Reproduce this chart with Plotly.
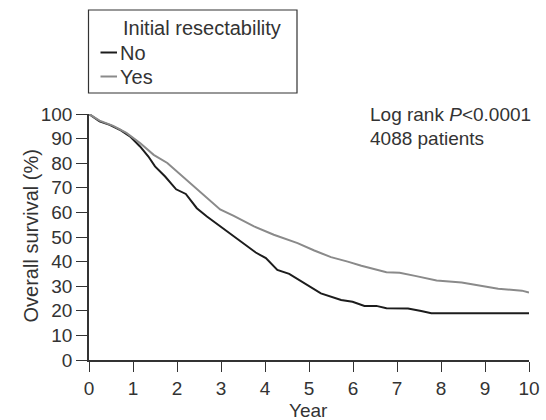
import plotly.graph_objects as go

# Kaplan-Meier overall survival by initial resectability
years_no = [0, 0.24, 0.47, 0.70, 0.93, 1.16, 1.35, 1.50, 1.73, 1.98, 2.20, 2.45, 2.68,
            2.97, 3.06, 3.48, 3.79, 4.02, 4.28, 4.55, 4.89, 5.27, 5.73, 5.99, 6.26,
            6.53, 6.76, 7.25, 7.55, 7.78, 10.0]
surv_no = [100, 97.0, 95.6, 93.6, 90.9, 86.8, 82.7, 78.7, 74.6, 69.4, 67.5, 61.7, 58.3,
           54.5, 53.6, 48.1, 43.7, 41.4, 36.6, 35.0, 31.2, 27.1, 24.4, 23.7, 22.0,
           22.0, 21.0, 20.9, 19.9, 19.0, 19.0]

years_yes = [0, 0.24, 0.55, 0.85, 1.16, 1.47, 1.78, 2.09, 2.40, 2.70, 2.98, 3.29, 3.75,
             4.20, 4.74, 5.12, 5.50, 5.88, 6.19, 6.76, 7.06, 7.41, 7.90, 8.47, 8.93,
             9.30, 9.84, 10.0]
surv_yes = [100, 97.3, 95.2, 92.3, 88.2, 83.4, 80.1, 75.3, 70.5, 65.8, 61.2, 58.6, 54.3,
            50.9, 47.5, 44.5, 41.8, 40.0, 38.3, 35.7, 35.5, 34.2, 32.3, 31.5, 30.1,
            29.0, 28.2, 27.4]

x_ticks = list(range(0, 11))
y_ticks = list(range(0, 101, 10))

group_names = ["No", "Yes"]
group_colors = ["#1c1c1c", "#8a8a8a"]

FONT = "Liberation Sans, Arial, sans-serif"
TXT = "#333333"
FS = 19

W, H = 546, 420
ML, MR, MT, MB = 89, 17, 114, 60
PW, PH = W - ML - MR, H - MT - MB


def px(xp):
    return (xp - ML) / PW


def py(yp):
    return (H - MB - yp) / PH


def label(x, y, text, size=FS, xanchor="left", angle=0):
    fig.add_annotation(xref="paper", yref="paper", x=px(x), y=py(y), text=text,
                       showarrow=False, xanchor=xanchor, yanchor="middle",
                       textangle=angle, font=dict(family=FONT, size=size, color=TXT))


fig = go.Figure()
for xs, ys, name, col in [(years_no, surv_no, group_names[0], group_colors[0]),
                          (years_yes, surv_yes, group_names[1], group_colors[1])]:
    fig.add_trace(go.Scatter(x=xs, y=ys, mode="lines", name=name,
                             line=dict(color=col, width=2), showlegend=False,
                             cliponaxis=False))

# Legend box drawn by hand so the line samples stay short
fig.add_shape(type="rect", xref="paper", yref="paper",
              x0=px(88.5), x1=px(297), y0=py(10), y1=py(93),
              line=dict(color="#333", width=1.2))
label(121, 28.5, "Initial resectability", size=FS + 1)
for i, (name, col) in enumerate(zip(group_names, group_colors)):
    yy = 52.5 + 24 * i
    fig.add_shape(type="line", xref="paper", yref="paper",
                  x0=px(100.5), x1=px(117), y0=py(yy), y1=py(yy),
                  line=dict(color=col, width=2))
    label(118, yy, name, size=FS + 1)

label(368, 115, "Log rank <i>P</i><0.0001")
label(368, 138, "4088 patients")

# Axis titles
label(308.5, 410, "Year", xanchor="center")
label(30, 236.5, "Overall survival (%)", size=FS + 1, xanchor="center", angle=-90)

axis_common = dict(showgrid=False, zeroline=False, showline=True, automargin=False,
                   linecolor="#333", linewidth=1.5, ticks="outside",
                   tickwidth=1.3, tickcolor="#333",
                   tickfont=dict(family=FONT, size=FS, color=TXT))

fig.update_xaxes(range=[0, 10], tickvals=x_ticks, ticklen=10, **axis_common)
fig.update_yaxes(range=[0, 100], tickvals=y_ticks, ticklen=11, **axis_common)

fig.update_layout(width=W, height=H, margin=dict(l=ML, r=MR, t=MT, b=MB),
                  plot_bgcolor="white", paper_bgcolor="white",
                  font=dict(family=FONT, size=FS, color=TXT))

fig.write_html("out.html")
